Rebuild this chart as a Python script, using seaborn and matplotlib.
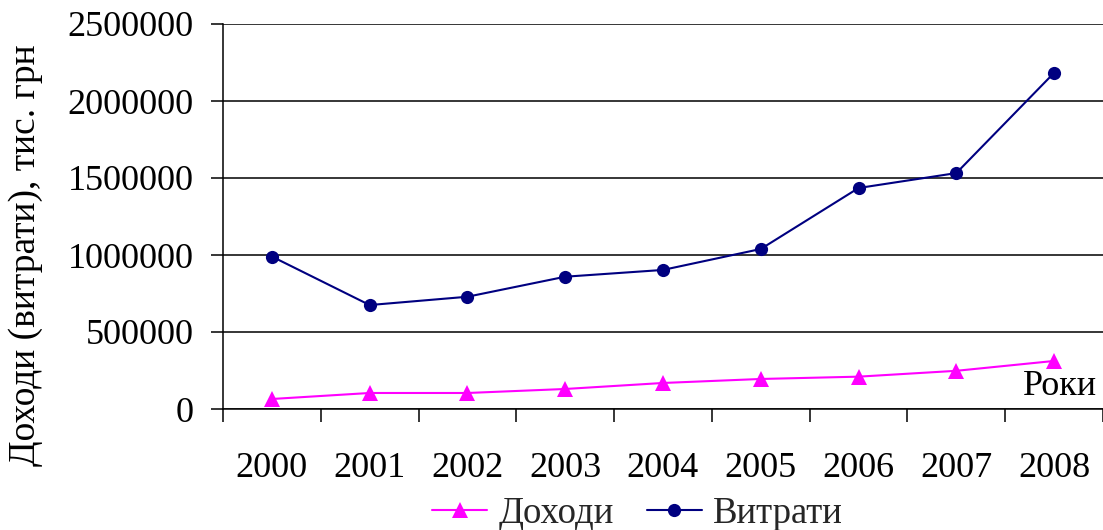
import matplotlib
matplotlib.use("Agg")
import matplotlib.pyplot as plt
import seaborn as sns
import pandas as pd
import numpy as np
from matplotlib.ticker import FixedLocator, NullFormatter, FixedFormatter

years = ["2000", "2001", "2002", "2003", "2004", "2005", "2006", "2007", "2008"]
income = [65000, 104000, 104000, 130000, 169000, 195000, 210000, 248000, 312000]
expenses = [990000, 675000, 729000, 859000, 903000, 1039000, 1435000, 1532000, 2183000]
series_names = ["Доходи", "Витрати"]
y_ticks = [0, 500000, 1000000, 1500000, 2000000, 2500000]

sns.set_theme(style="white")
plt.rcParams["font.family"] = ["Liberation Serif", "DejaVu Serif"]

pos = np.arange(len(years))
df = pd.concat([
    pd.DataFrame({"x": pos, "value": income, "series": series_names[0]}),
    pd.DataFrame({"x": pos, "value": expenses, "series": series_names[1]}),
])

fig = plt.figure(figsize=(11.03, 5.30), dpi=100)
ax = fig.add_axes([223/1103, 1 - 409/530, 880/1103, 385/530])

palette = {series_names[0]: "#FF00FF", series_names[1]: "#000080"}
markers = {series_names[0]: "^", series_names[1]: "o"}
sns.lineplot(data=df, x="x", y="value", hue="series", style="series",
             palette=palette, markers=markers, dashes=False, markersize=9.5,
             markeredgewidth=0, linewidth=1.5, ax=ax, legend=True, zorder=3)
for ln in ax.lines:
    if ln.get_marker() == "^":
        ln.set_markersize(11)

ax.set_xlim(-0.5, len(years) - 0.5)
ax.set_ylim(0, 2500000)
ax.set_yticks(y_ticks)
ax.set_yticklabels([str(v) for v in y_ticks])

ax.xaxis.set_major_locator(FixedLocator(np.arange(len(years) + 1) - 0.5))
ax.xaxis.set_major_formatter(NullFormatter())
ax.xaxis.set_minor_locator(FixedLocator(pos))
ax.xaxis.set_minor_formatter(FixedFormatter(years))
ax.tick_params(axis="x", which="major", direction="out", length=9, width=1.1, color="black", bottom=True)
ax.tick_params(axis="x", which="minor", length=0, pad=31, labelsize=26, labelcolor="black", bottom=True)
ax.tick_params(axis="y", which="major", direction="out", length=9, width=1.1, color="black", pad=12,
               labelsize=26, labelcolor="black", left=True)

ax.grid(axis="y", color="black", linewidth=1.1)
ax.grid(axis="x", visible=False)
for s in ["top", "right"]:
    ax.spines[s].set_visible(False)
for s in ["left", "bottom"]:
    ax.spines[s].set_color("black")
    ax.spines[s].set_linewidth(1.1)

ax.set_xlabel("")
ax.set_ylabel("Доходи (витрати), тис. грн", fontsize=27, color="black")
ax.yaxis.set_label_coords(-0.205, 0.40)

ax.text(0.993, 0.036, "Роки", transform=ax.transAxes, ha="right", va="baseline",
        fontsize=26, color="black")

handles, labels = ax.get_legend_handles_labels()
for h in handles:
    if h.get_marker() == "^":
        h.set_markersize(11)
ax.get_legend().remove()
fig.legend(handles, labels, loc="lower center", bbox_to_anchor=(0.578, -0.03), ncol=2,
           frameon=False, fontsize=26.5, handlelength=1.5, handletextpad=0.3,
           columnspacing=0.9, borderaxespad=0)

fig.savefig("out.png", dpi=100)
